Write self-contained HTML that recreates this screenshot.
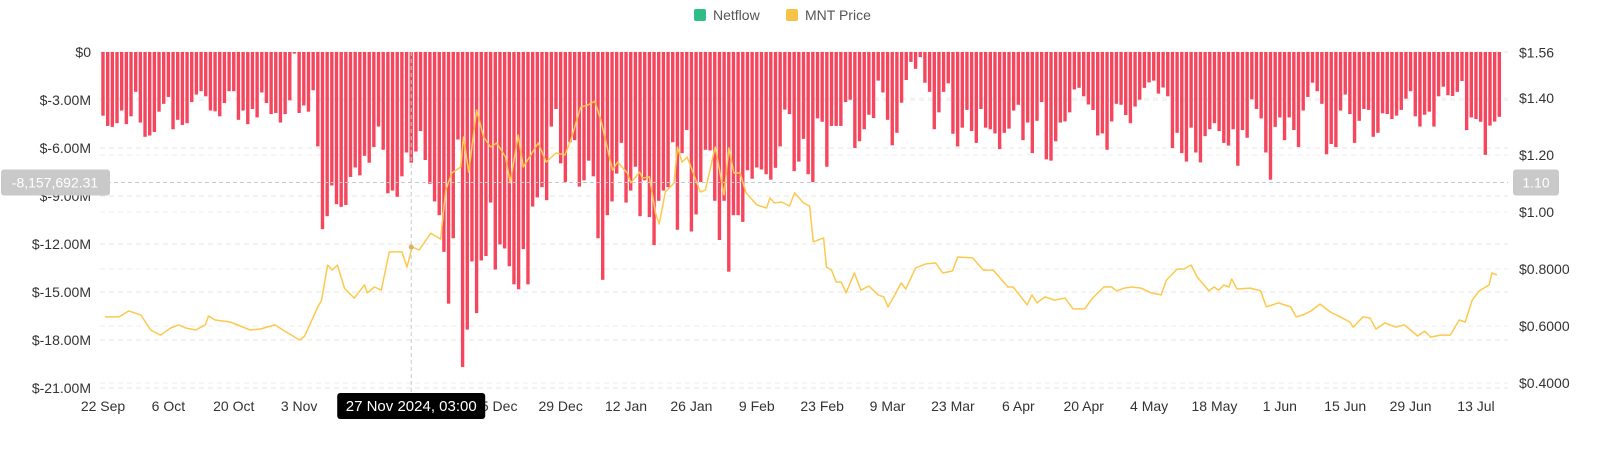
<!DOCTYPE html>
<html><head><meta charset="utf-8">
<style>
html,body{margin:0;padding:0;background:#fff;}
body{width:1600px;height:454px;overflow:hidden;font-family:"Liberation Sans",sans-serif;}
svg text{font-family:"Liberation Sans",sans-serif;}
</style></head>
<body>
<svg id="chart" width="1600" height="454" viewBox="0 0 1600 454" xmlns="http://www.w3.org/2000/svg">
  <g>
    <g>
      <rect x="694" y="9" width="12" height="12" rx="2" fill="#2ebd85"/>
      <text x="713" y="20" font-size="14" fill="#555">Netflow</text>
    </g>
    <g>
      <rect x="786" y="9" width="12" height="12" rx="2" fill="#f7c24a"/>
      <text x="805" y="20" font-size="14" fill="#555">MNT Price</text>
    </g>
  </g>
  <g id="grid"></g>
  <g id="bars"></g>
  <g id="line"></g>
  <g id="leftAxis"></g>
  <g id="rightAxis"></g>
  <g id="xAxis"></g>
  <g id="cross"></g>
</svg>
<script>
const netflowValues = [
-3.98,-4.62,-4.68,-4.45,-3.66,-4.51,-4.02,-2.49,-4.41,-5.30,-5.22,-5.00,-3.73,-3.24,-2.81,-4.83,-4.24,-4.56,-4.45,-3.13,
-2.66,-2.45,-2.77,-3.66,-3.71,-4.02,-3.19,-2.45,-2.45,-4.24,-3.66,-4.51,-3.56,-4.09,-2.53,-3.19,-3.88,-3.81,-4.41,-3.88,
-3.02,-0.10,-3.81,-3.34,-3.73,-2.39,-5.90,-11.07,-10.26,-8.34,-9.51,-9.68,-9.56,-7.81,-7.22,-7.71,-6.49,-6.92,-5.94,-4.66,
-6.11,-8.83,-8.66,-9.05,-7.77,-6.28,-6.92,
-6.22,-4.94,-6.75,-8.24,-9.34,-10.20,-12.49,-15.73,-11.64,-5.47,-19.69,-17.35,-13.09,-16.32,-13.03,-12.75,-9.41,-13.60,-12.03,-12.28,
-13.39,-14.52,-14.83,-12.32,-14.52,-9.66,-9.09,-8.45,-9.26,-4.66,-3.56,-6.96,-8.13,-5.64,-5.51,-8.41,-8.02,-6.79,-7.77,-11.64,
-14.24,-10.20,-9.34,-7.60,-5.68,-9.41,-8.66,-7.17,-10.26,-8.02,-10.32,-12.07,-9.30,-8.66,-8.45,-5.64,-11.11,-6.32,-4.88,-11.22,
-10.15,-8.13,-6.11,-6.15,-9.30,-11.75,-9.30,-13.73,-10.20,-10.20,-10.62,
-7.39,-7.92,-7.22,-7.34,-7.64,-7.98,-7.24,-5.90,-3.60,-3.88,-7.45,-6.85,-5.43,-7.64,-8.13,-4.15,-4.36,-7.17,-4.62,-4.62,
-4.62,-3.13,-2.98,-6.00,-5.58,-4.83,-3.92,-4.13,-1.79,-2.53,-4.24,-5.83,-5.05,-3.17,-1.75,-0.62,-1.05,-0.32,-1.92,-2.49,
-4.83,-3.77,-2.49,-1.96,-5.11,-5.90,-4.73,-3.62,-4.94,-5.68,-3.56,-4.73,-4.83,-5.09,-6.07,-5.05,-4.79,-3.66,-3.30,-5.51,
-4.41,-6.32,-4.30,-3.13,-6.71,-6.79,-5.58,-4.41,-4.34,-3.77,-2.34,-2.24,-2.77,-3.28,-3.62,-5.22,-5.09,
-6.11,-4.34,-3.24,-3.30,-3.94,-4.45,-3.41,-2.98,-2.24,-1.90,-1.79,-2.60,-2.22,-2.77,-6.00,-5.05,-6.32,-6.85,-4.73,-6.28,
-6.90,-5.26,-4.83,-4.45,-4.94,-5.68,-5.85,-4.83,-7.11,-4.88,-5.36,-2.96,-3.56,-4.15,-6.28,-7.98,-4.68,-4.09,-5.51,-4.09,
-4.88,-5.94,-3.66,-2.81,-1.92,-2.45,-3.24,-6.39,-5.75,-5.94,-3.66,-2.66,-3.88,-5.68,-4.30,-3.56,-3.62,-5.30,-5.05,-3.83,
-3.88,-4.19,-3.98,-3.62,-2.92,-2.45,-4.02,-4.66,-3.92,-3.73,-4.66,-2.77,-2.17,-2.70,-2.75,-2.49,-1.81,-4.88,-4.09,-4.19,
-4.36,-6.43,-4.60,-4.35,-4.05
];
const priceDays = [
0.4,3.4,5.5,8.1,10.2,12.3,14.5,16.2,17.7,19.8,21.9,22.6,24.0,27.2,29.4,31.5,33.6,36.8,38.9,42.1,
43.2,46.0,46.8,48.1,49.1,50.2,51.7,53.8,56.0,56.6,58.1,59.6,61.3,64.0,65.1,66.2,67.7,70.2,72.3,73.4,
74.7,76.6,77.2,78.3,80.0,81.5,83.0,84.3,86.2,87.2,88.9,90.0,93.2,94.9,97.0,98.9,100.2,102.3,103.8,105.3,
106.6,109.1,110.2,112.3,113.0,114.9,115.5,117.0,118.3,119.1,120.4,122.3,123.0,124.0,125.1,127.9,129.0,131.1,133.0,134.0,
135.1,136.4,137.7,140.0,142.1,142.8,143.8,145.3,147.0,148.1,150.0,151.3,152.1,154.3,154.9,156.0,157.0,158.1,159.1,160.9,
162.3,164.0,166.0,167.2,168.1,169.8,170.9,171.9,174.0,176.2,178.3,179.8,181.9,183.0,186.2,188.5,190.6,193.8,194.9,197.9,
198.9,200.0,201.7,203.8,206.0,207.7,210.2,211.9,214.3,216.0,217.0,218.7,220.2,222.3,224.5,226.6,227.7,230.0,231.5,233.0,
234.3,236.8,237.9,238.9,240.0,241.1,241.7,242.8,245.7,247.9,249.1,251.7,254.3,255.5,257.0,258.7,260.6,262.8,264.9,267.0,
267.7,269.8,271.3,272.6,274.5,276.8,278.7,281.5,283.0,284.3,286.4,288.5,290.4,291.7,293.2,294.7,296.8,297.4,298.5
];
const priceValues = [
.632,.632,.653,.639,.586,.568,.593,.604,.593,.586,.604,.635,.621,.614,.600,.586,.589,.604,.582,.551,
.565,.667,.691,.814,.796,.814,.733,.698,.744,.716,.737,.726,.860,.860,.807,.877,.867,.926,.905,1.077,
1.137,1.158,1.263,1.140,1.358,1.263,1.228,1.242,1.193,1.102,1.270,1.158,1.242,1.175,1.207,1.200,1.253,1.368,1.375,1.389,
1.323,1.147,1.175,1.137,1.102,1.140,1.119,1.123,.996,.958,1.070,1.102,1.228,1.175,1.193,1.070,1.077,1.228,1.060,1.225,
1.137,1.137,1.067,1.025,1.014,1.049,1.032,1.035,1.021,1.067,1.032,1.021,.895,.909,.807,.796,.754,.754,.716,.786,
.726,.740,.709,.702,.667,.716,.751,.730,.804,.818,.821,.786,.793,.842,.839,.796,.796,.737,.737,.674,
.709,.681,.702,.691,.698,.660,.660,.698,.737,.737,.723,.733,.737,.733,.716,.709,.761,.800,.800,.814,
.772,.723,.737,.726,.744,.737,.765,.730,.733,.723,.667,.681,.667,.632,.639,.653,.677,.649,.632,.614,
.596,.632,.628,.589,.611,.596,.604,.565,.582,.561,.568,.568,.621,.614,.691,.723,.744,.786,.779
];
const leftTicks = [0,-3,-6,-9,-12,-15,-18,-21];
const leftTickLabels = ["$0","$-3.00M","$-6.00M","$-9.00M","$-12.00M","$-15.00M","$-18.00M","$-21.00M"];
const rightTicks = [1.56,1.40,1.20,1.00,0.80,0.60,0.40];
const rightTickLabels = ["$1.56","$1.40","$1.20","$1.00","$0.8000","$0.6000","$0.4000"];
const xTickDays = [0,14,28,42,56,70,84,98,112,126,140,154,168,182,196,210,224,238,252,266,280,294];
const xTickLabels = ["22 Sep","6 Oct","20 Oct","3 Nov","17 Nov","1 Dec","15 Dec","29 Dec","12 Jan","26 Jan","9 Feb","23 Feb","9 Mar","23 Mar","6 Apr","20 Apr","4 May","18 May","1 Jun","15 Jun","29 Jun","13 Jul"];
const crossDay = 66;
const crossValue = -8157692.31;
const crossPrice = 1.10;

const NS="http://www.w3.org/2000/svg";
const X0=103, DAYW=4.67, PL=100, PR=1508;
function xDay(d){return X0+d*DAYW;}
function yFlow(m){return 52 - m*16;}
function yPrice(p){return 383-(p-0.4)*285;}
function mk(tag,attrs,parent){const e=document.createElementNS(NS,tag);for(const k in attrs)e.setAttribute(k,attrs[k]);parent.appendChild(e);return e;}

const grid=document.getElementById('grid');
leftTicks.forEach(v=>{
  const l=mk('line',{x1:PL,x2:PR,y1:yFlow(v),y2:yFlow(v),stroke:'#e6e6e6','stroke-dasharray':'5,4','stroke-width':1},grid);
  
  
});
rightTicks.forEach(v=>{
  const l=mk('line',{x1:PL,x2:PR,y1:yPrice(v),y2:yPrice(v),stroke:'#ececec','stroke-dasharray':'5,4','stroke-width':1},grid);
  
  
});

const bars=document.getElementById('bars');
netflowValues.forEach((v,i)=>{
  const y0=yFlow(0), y1=yFlow(v);
  const r=mk('rect',{x:xDay(i)-1.7,y:y0,width:3.4,height:Math.max(0.5,y1-y0),fill:'#f6465d'},bars);
  
  
});

const lineG=document.getElementById('line');
let d='';
priceDays.forEach((dd,i)=>{d+=(i?'L':'M')+xDay(dd).toFixed(1)+','+yPrice(priceValues[i]).toFixed(1);});
const path=mk('path',{d:d,fill:'none',stroke:'#fcc94e','stroke-width':1.5,'stroke-linejoin':'round'},lineG);



const la=document.getElementById('leftAxis');
leftTicks.forEach((v,i)=>{
  const t=mk('text',{x:91,y:yFlow(v)+5,'text-anchor':'end','font-size':14,fill:'#333'},la);
  t.textContent=leftTickLabels[i];
  
  
});
const ra=document.getElementById('rightAxis');
rightTicks.forEach((v,i)=>{
  const t=mk('text',{x:1519,y:yPrice(v)+5,'font-size':14,fill:'#333'},ra);
  t.textContent=rightTickLabels[i];
  
  
});
const xa=document.getElementById('xAxis');
xTickDays.forEach((dd,i)=>{
  const t=mk('text',{x:xDay(dd),y:411,'text-anchor':'middle','font-size':14,fill:'#333'},xa);
  t.textContent=xTickLabels[i];
  
  
});

const cr=document.getElementById('cross');
const cx=xDay(crossDay), cy=yFlow(crossValue/1e6);
const vl=mk('line',{x1:cx,x2:cx,y1:52,y2:392,stroke:'#c8c8c8','stroke-dasharray':'4,3'},cr);


const hl=mk('line',{x1:PL,x2:PR,y1:cy,y2:cy,stroke:'#c8c8c8','stroke-dasharray':'4,3'},cr);


const dot=mk('circle',{cx:cx,cy:yPrice(0.877),r:2.5,fill:'#e0b060'},cr);


const lb=mk('rect',{x:1,y:cy-13,width:109,height:26,rx:3,fill:'#c9c9c9'},cr);


const lt=mk('text',{x:55,y:cy+5,'text-anchor':'middle','font-size':14,fill:'#fff'},cr);
lt.textContent=crossValue.toLocaleString('en-US',{minimumFractionDigits:2,maximumFractionDigits:2});


const rb=mk('rect',{x:1513,y:cy-13,width:46,height:26,rx:3,fill:'#c9c9c9'},cr);


const rt=mk('text',{x:1536,y:cy+5,'text-anchor':'middle','font-size':14,fill:'#fff'},cr);
rt.textContent=crossPrice.toFixed(2);


const tb=mk('rect',{x:cx-74,y:393,width:148,height:26,rx:3,fill:'#000'},cr);


const tt=mk('text',{x:cx,y:411,'text-anchor':'middle','font-size':15,fill:'#fff'},cr);
tt.textContent='27 Nov 2024, 03:00';


</script>
</body></html>
